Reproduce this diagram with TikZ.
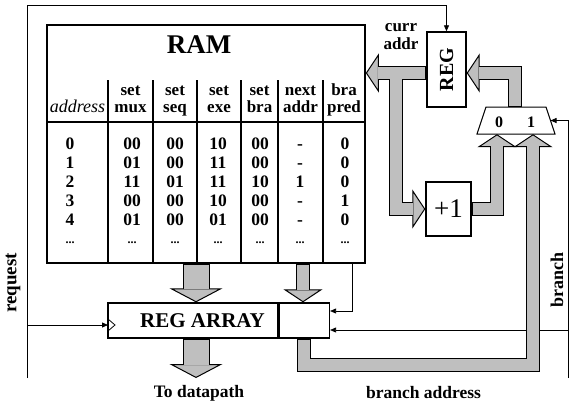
\documentclass[tikz,border=0pt]{standalone}
\usepackage{fontspec}
\setmainfont{Liberation Serif}
\usetikzlibrary{arrows.meta,positioning}
\definecolor{buscol}{gray}{0.75}
\newcommand{\fsz}[1]{\fontsize{#1}{#1}\selectfont}
\newcommand{\rowdots}{{\fsz{12}...}}
\tikzset{
  sig/.style={line width=0.8pt, -{Triangle[length=6pt,width=5pt]}},
  block/.style={draw, line width=1.4pt, inner sep=0pt},
  busedge/.style={draw=black, line width=14pt, -{Triangle[width=39pt,length=13pt,fill=buscol,line width=1pt]}},
  busfill/.style={draw=buscol, line width=12pt, shorten <=1pt, shorten >=12pt},
  wideedge/.style={draw=black, line width=27pt, -{Triangle[width=53pt,length=14pt,fill=buscol,line width=1pt]}},
  widefill/.style={draw=buscol, line width=25pt, shorten <=1pt, shorten >=13pt},
}
\begin{document}
\begin{tikzpicture}[x=1pt, y=-1pt, font=\bfseries]
\useasboundingbox (0,0) rectangle (570,405);
% microprogram memory
\node[block, line width=1.6pt, minimum width=318pt, minimum height=238pt] (ram) at (206,144) {};
\node[font=\bfseries\fsz{27}] (title) at (199,45) {RAM};
\draw[line width=1.6pt] (ram.west |- 0,122) -- (ram.east |- 0,122);
\foreach \x in {108,153,197,241,278,323}
  \draw[line width=1.6pt] (\x,80) -- (ram.south -| \x,0);
\node[anchor=base, font=\mdseries\itshape\fsz{18}] (addr) at (77.5,112) {address};
\foreach \x/\a/\b [count=\i] in {130.5/set/mux, 175/set/seq, 219/set/exe, 259.5/set/bra, 300.5/next/addr, 344/bra/pred}{
  \node[anchor=base, font=\bfseries\fsz{17}] (hda\i) at (\x,95) {\a};
  \node[anchor=base, font=\bfseries\fsz{17}] (hdb\i) at (\x,112) {\b};
}
\begin{scope}[font=\bfseries\fsz{17.5}]
\foreach \y/\a/\b/\c/\d/\e/\f/\g [count=\i] in {149/0/00/00/10/00/-/0, 168/1/01/00/11/00/-/0, 187/2/11/01/11/10/1/0, 206/3/00/00/10/00/-/1, 225/4/01/00/01/00/-/0, 243/\rowdots/\rowdots/\rowdots/\rowdots/\rowdots/\rowdots/\rowdots}{
  \node[anchor=base] (ra\i) at (70,\y) {\a};
  \node[anchor=base] (rb\i) at (132,\y) {\b};
  \node[anchor=base] (rc\i) at (175,\y) {\c};
  \node[anchor=base] (rd\i) at (218,\y) {\d};
  \node[anchor=base] (re\i) at (260,\y) {\e};
  \node[anchor=base] (rf\i) at (300,\y) {\f};
  \node[anchor=base] (rg\i) at (345,\y) {\g};
}
\end{scope}
% register array
\node[block, minimum width=170pt, minimum height=35pt] (regarr) at (193,320.5) {};
\node[block, minimum width=50pt, minimum height=35pt, anchor=west] (brreg) at (regarr.east) {};
\node[font=\bfseries\fsz{21}] (regtxt) at (202.5,321) {REG ARRAY};
\coordinate (clk) at (108,325);
\draw[line width=0.8pt] (108,319) -- (115,325) -- (108,331);
% sequencer
\node[block, minimum width=39pt, minimum height=75pt] (reg) at (446.5,69.5) {};
\node[rotate=90, font=\bfseries\fsz{20}] (regname) at (reg.center) {REG};
\node[block, minimum width=45pt, minimum height=54pt, font=\mdseries\fsz{27}] (inc) at (448.5,209) {+1};
\node[inner sep=0pt, minimum width=78pt, minimum height=27pt] (mux) at (516,120.5) {};
\draw[line width=1pt] (486,107) -- (546,107) -- (555,134) -- (477,134) -- cycle;
\coordinate (muxsel) at (550.5,120.5);
\node[font=\bfseries\fsz{16}] (mux0) at (499,122) {0};
\node[font=\bfseries\fsz{16}] (mux1) at (531,122) {1};
\node[anchor=base, font=\bfseries\fsz{17}] (currtxt) at (401,31) {curr};
\node[anchor=base, font=\bfseries\fsz{17}] (addrtxt) at (401,49) {addr};
% outside labels
\node[rotate=90, font=\bfseries\fsz{19}] (reqtxt) at (13,283) {request};
\node[rotate=90, font=\bfseries\fsz{18}, inner sep=1pt] (brtxt) at (557,280) {branch};
\node[anchor=base, font=\bfseries\fsz{17.5}] (dptxt) at (199,397) {To datapath};
\node[anchor=base, font=\bfseries\fsz{17.5}] (batxt) at (423.5,398) {branch address};
% control lines
\coordinate (reqin) at (27,378);
\coordinate (reqtap) at (27,325);
\coordinate (brin) at (568.5,378);
\coordinate (brtap) at (568.5,330);
\coordinate (predout) at (352,263);
\coordinate (dpath) at (196,378);
\draw[sig] (reqin) -- (27,5) -| (reg.north);
\draw[sig] (reqtap) -- (clk);
\draw[sig] (brin) |- (muxsel);
\draw[sig] (brtap) -- (brreg.east |- brtap);
\draw[sig] (predout) |- (brreg.east |- 0,311);
% buses, outline
\draw[wideedge] (ram.south -| 196,0) -- (regarr.north -| 196,0);
\draw[wideedge] (regarr.south -| 196,0) -- (dpath);
\draw[busedge] (ram.south -| 303,0) -- (brreg.north -| 303,0);
\draw[busedge] (reg.west |- 0,73) -- (ram.east |- 0,73);
\draw[busedge] (396,73) |- (inc.west);
\draw[busedge] (inc.east) -| (mux.south -| 497,0);
\draw[busedge] (mux.north -| 515,0) |- (reg.east |- 0,73);
\draw[busedge] (brreg.south -| 303.5,0) -- (303.5,365) -| (mux.south -| 533,0);
% buses, fill
\draw[widefill] (ram.south -| 196,0) -- (regarr.north -| 196,0);
\draw[widefill] (regarr.south -| 196,0) -- (dpath);
\draw[busfill] (ram.south -| 303,0) -- (brreg.north -| 303,0);
\draw[busfill] (reg.west |- 0,73) -- (ram.east |- 0,73);
\draw[busfill] (396,73) |- (inc.west);
\draw[busfill] (inc.east) -| (mux.south -| 497,0);
\draw[busfill] (mux.north -| 515,0) |- (reg.east |- 0,73);
\draw[busfill] (brreg.south -| 303.5,0) -- (303.5,365) -| (mux.south -| 533,0);
\end{tikzpicture}
\end{document}
